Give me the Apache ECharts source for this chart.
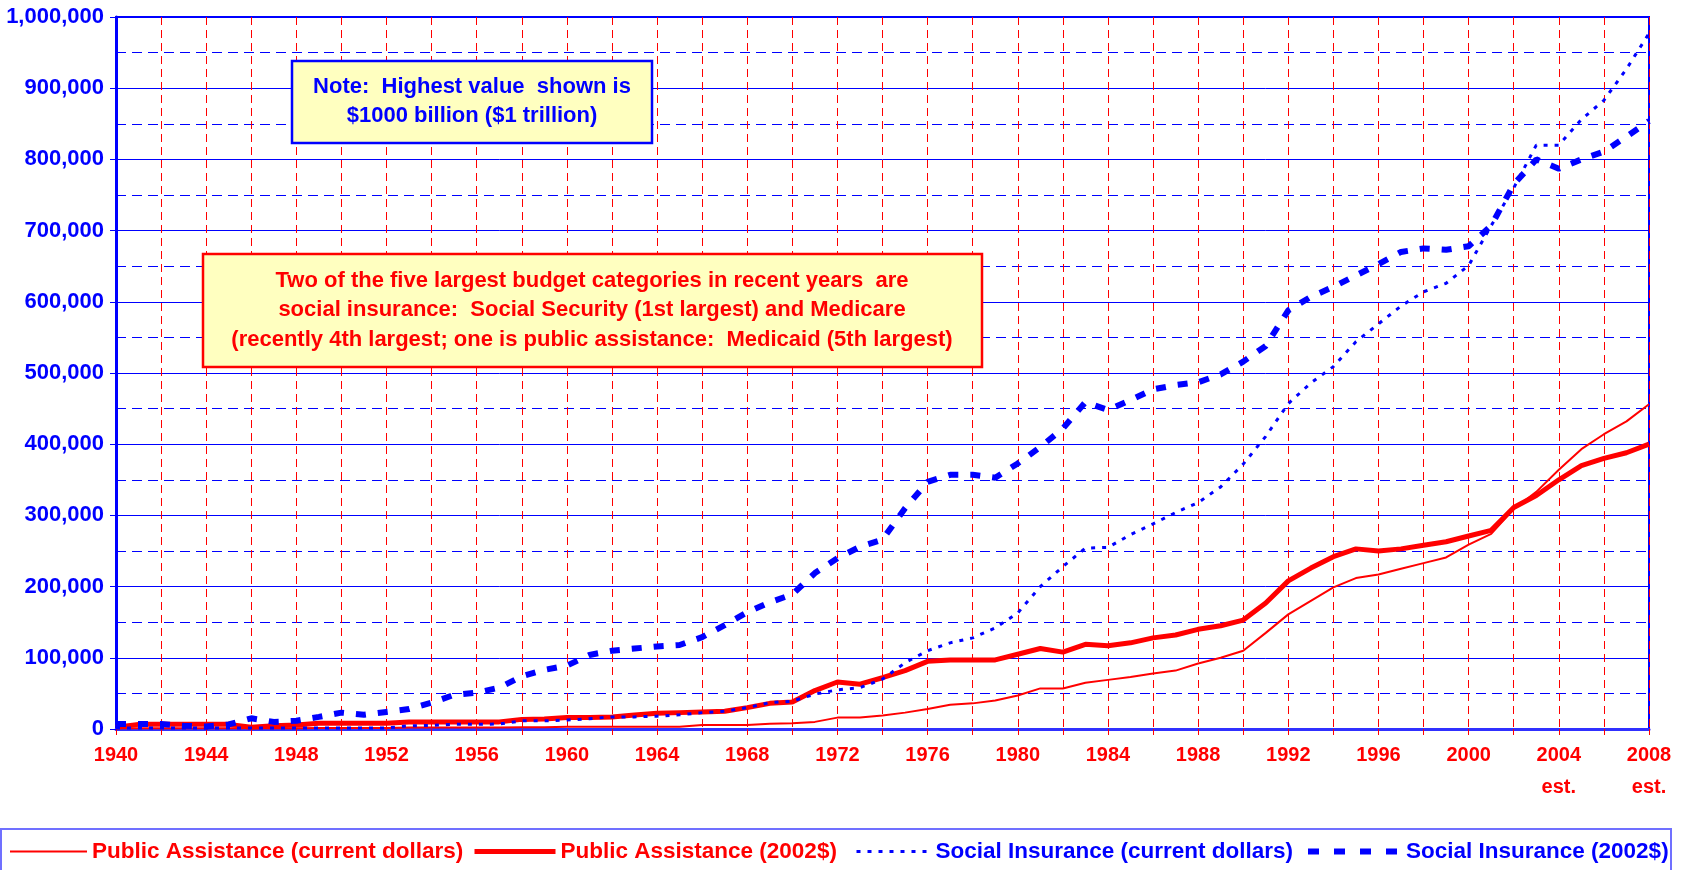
<!DOCTYPE html>
<html>
<head>
<meta charset="utf-8">
<script src="https://cdn.jsdelivr.net/npm/echarts@6.0.0/dist/echarts.min.js"></script>
</head>
<body style="margin:0;background:#fff">
<div id="container" style="width:1683px;height:870px"></div>
<script>
var years = ['1940','1941','1942','1943','1944','1945','1946','1947','1948','1949',
  '1950','1951','1952','1953','1954','1955','1956','1957','1958','1959',
  '1960','1961','1962','1963','1964','1965','1966','1967','1968','1969',
  '1970','1971','1972','1973','1974','1975','1976','1977','1978','1979',
  '1980','1981','1982','1983','1984','1985','1986','1987','1988','1989',
  '1990','1991','1992','1993','1994','1995','1996','1997','1998','1999',
  '2000','2001','2002','2003','2004','2005','2006','2007','2008'];
var estYears = ['2004', '2008'];

// millions of dollars
var paCurrent = [1000,1000,1000,1000,1000,1000,1000,1000,1000,1500,
  1500,1500,1500,2000,2000,2000,2000,2000,2500,2500,
  3000,3000,3000,3000,3000,3000,5500,5500,5500,7500,
  8000,10000,16000,16000,19000,23000,28000,34000,36000,40000,
  47000,57000,57000,65000,69000,73000,78000,82000,92000,100000,
  110000,135000,161000,180000,199000,212000,217000,225000,233000,241000,
  259000,274000,309000,333000,364000,393000,414000,432000,456000];
var pa2002 = [2500,6500,6500,6500,6500,6500,2500,4500,5500,8000,
  8000,8000,8000,10000,10000,10000,10000,10000,13500,14000,
  16000,16000,17000,19500,22000,23000,24000,25000,30000,36000,
  38000,54000,66000,63000,72000,82000,95000,97000,97000,97000,
  105000,113000,108000,119000,117000,121000,128000,132000,140000,145000,
  153000,177000,208000,226000,242000,253000,250000,253000,258000,263000,
  271000,279000,311000,328000,350000,370000,380000,388000,400000];
var siCurrent = [1500,1500,1500,1500,1500,1500,1500,1500,1500,1500,
  1500,1500,1500,4500,5000,6500,6500,7000,11500,11500,
  12500,14500,17000,17000,18000,20000,23000,25000,30000,37000,
  39000,49000,55000,58000,70000,93000,110000,121000,128000,142000,
  163000,200000,228000,254000,255000,273000,288000,304000,318000,340000,
  372000,411000,457000,486000,509000,544000,569000,594000,614000,626000,
  651000,707000,760000,820000,820000,856000,883000,927000,977000];
var si2002 = [7000,7000,7000,4500,3500,6500,15000,10000,11500,17000,
  23000,20000,24000,28000,37000,48000,51000,58000,74000,83000,
  89000,104000,110000,113000,116000,118000,129000,146000,164000,178000,
  189000,219000,240000,256000,266000,310000,347000,357000,357000,353000,
  373000,396000,422000,459000,448000,462000,477000,483000,487000,498000,
  516000,538000,588000,607000,621000,637000,653000,670000,675000,673000,
  678000,707000,765000,800000,787000,800000,811000,832000,854000];

var RED = '#ff0000';
var BLUE = '#0000ff';
var FONT = "'Liberation Sans', Arial, sans-serif";

var names = ['Public Assistance (current dollars)', 'Public Assistance (2002$)',
  'Social Insurance (current dollars)', 'Social Insurance (2002$)'];
var colors = [RED, RED, BLUE, BLUE];
var widths = [2, 5, 3, 6];
var dashes = ['solid', 'solid', [4, 7], [10, 12]];
var legendDashes = ['solid', 'solid', [4, 7], [11, 15]];

// one legend per entry so each sample sits where the original has it
var legendLeft = [9, 472, 855, 1305];
var legendIcon = [77, 81, 74, 93];
var legends = names.map(function (n, i) {
  return {
    left: legendLeft[i], top: 840, padding: 0,
    itemWidth: legendIcon[i], itemHeight: 14,
    itemStyle: { opacity: 0 },
    lineStyle: { width: widths[i], type: legendDashes[i], color: colors[i] },
    textStyle: { fontSize: 22.5, fontWeight: 'bold', fontFamily: FONT, color: colors[i] },
    data: [n]
  };
});

var chart = echarts.init(document.getElementById('container'));
var option = {
  animation: false,
  backgroundColor: '#fff',
  grid: {
    left: 116, right: 34, top: 17, bottom: 141,
    show: true, borderColor: BLUE, borderWidth: 2
  },
  legend: legends,
  xAxis: {
    type: 'category',
    data: years,
    boundaryGap: false,
    axisLine: { lineStyle: { color: '#3030ff', width: 3 } },
    axisTick: { interval: 1, length: 6, lineStyle: { color: RED } },
    axisLabel: {
      interval: 3, margin: 10, color: RED, fontSize: 20, fontWeight: 'bold',
      fontFamily: FONT, lineHeight: 32,
      formatter: function (v) { return estYears.indexOf(v) >= 0 ? v + '\nest.' : v; }
    },
    splitLine: { show: true, interval: 1, lineStyle: { color: RED, type: [8, 5], width: 1 } }
  },
  yAxis: {
    type: 'value',
    min: 0, max: 1000000, interval: 100000,
    axisLine: { show: true, lineStyle: { color: BLUE, width: 3 } },
    axisTick: { show: true, length: 6, lineStyle: { color: BLUE } },
    axisLabel: {
      margin: 12, color: BLUE, fontSize: 22, fontWeight: 'bold', fontFamily: FONT,
      formatter: function (v) { return v.toLocaleString('en-US'); }
    },
    splitLine: { lineStyle: { color: BLUE, width: 1 } },
    minorTick: { show: false, splitNumber: 2 },
    minorSplitLine: { show: true, lineStyle: { color: BLUE, type: [10, 6], width: 1 } }
  },
  series: [paCurrent, pa2002, siCurrent, si2002].map(function (d, i) {
    return {
      name: names[i], type: 'line', data: d, symbol: 'none',
      lineStyle: { color: colors[i], width: widths[i], type: dashes[i] },
      itemStyle: { color: colors[i] }
    };
  }),
  graphic: [
    {
      type: 'rect', z: 0, silent: true,
      shape: { x: 1, y: 829, width: 1670, height: 48 },
      style: { fill: 'none', stroke: '#7070ff', lineWidth: 2 }
    },
    {
      type: 'rect', z: 100,
      shape: { x: 292, y: 61, width: 360, height: 82 },
      style: { fill: '#ffffc0', stroke: BLUE, lineWidth: 2.5 }
    },
    {
      type: 'text', z: 101, x: 472, y: 101.5,
      style: {
        text: 'Note:  Highest value  shown is\n$1000 billion ($1 trillion)',
        fill: BLUE, font: 'bold 22px ' + FONT, textAlign: 'center',
        textVerticalAlign: 'middle', lineHeight: 29
      }
    },
    {
      type: 'rect', z: 100,
      shape: { x: 203, y: 254, width: 779, height: 113 },
      style: { fill: '#ffffc0', stroke: RED, lineWidth: 2.5 }
    },
    {
      type: 'text', z: 101, x: 592, y: 310,
      style: {
        text: 'Two of the five largest budget categories in recent years  are\n' +
              'social insurance:  Social Security (1st largest) and Medicare\n' +
              '(recently 4th largest; one is public assistance:  Medicaid (5th largest)',
        fill: RED, font: 'bold 22px ' + FONT, textAlign: 'center',
        textVerticalAlign: 'middle', lineHeight: 29.5
      }
    }
  ]
};
chart.setOption(option);
</script>
</body>
</html>
